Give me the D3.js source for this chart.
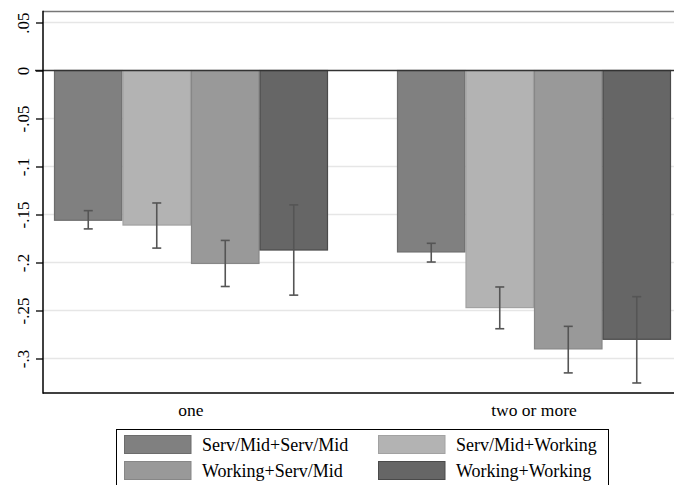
<!DOCTYPE html>
<html>
<head>
<meta charset="utf-8">
<script src="https://cdn.jsdelivr.net/npm/d3@7/dist/d3.min.js"></script>
<style>
  html, body { margin: 0; padding: 0; background: #fff; }
  svg { display: block; }
</style>
</head>
<body>
<svg id="chart" width="674" height="485"></svg>
<script>
// Number of children groups
const categories = ["one", "two or more"];
// Class combination of the couple
const seriesNames = ["Serv/Mid+Serv/Mid", "Serv/Mid+Working", "Working+Serv/Mid", "Working+Working"];
// Point estimates, one row per category, one column per series
const estimates = [
  [-0.156, -0.161, -0.201, -0.187],
  [-0.189, -0.247, -0.290, -0.280]
];
// Confidence interval bounds (upper, lower)
const ciUpper = [
  [-0.146, -0.138, -0.177, -0.140],
  [-0.180, -0.2255, -0.2665, -0.2356]
];
const ciLower = [
  [-0.165, -0.185, -0.225, -0.234],
  [-0.1995, -0.269, -0.315, -0.3255]
];
const yTicks = [0.05, 0, -0.05, -0.1, -0.15, -0.2, -0.25, -0.3];
const yTickLabels = [".05", "0", "-.05", "-.1", "-.15", "-.2", "-.25", "-.3"];

const fills = ["#808080", "#b3b3b3", "#999999", "#666666"];
const strokes = ["#6c6c6c", "#a2a2a2", "#878787", "#4a4a4a"];
const FONT = "'Liberation Serif'";

const svg = d3.select("#chart");
const plot = { left: 43, right: 690, top: 11.5, bottom: 393 };

const y = d3.scaleLinear().domain([0, -0.3]).range([70.5, 358.5]);

const x0 = d3.scaleBand().domain(categories).range([54, 671])
  .paddingInner(69 / 343).paddingOuter(0);
const x1 = d3.scaleBand().domain(seriesNames).range([0, x0.bandwidth()]).padding(0);

// grid lines
svg.append("g").selectAll("line")
  .data(yTicks.filter(d => d !== 0))
  .join("line")
  .attr("x1", plot.left).attr("x2", plot.right)
  .attr("y1", d => y(d)).attr("y2", d => y(d))
  .attr("stroke", "#e6e6e6").attr("stroke-width", 1.5);

// top frame line
svg.append("line")
  .attr("x1", plot.left).attr("x2", plot.right)
  .attr("y1", plot.top).attr("y2", plot.top)
  .attr("stroke", "#777").attr("stroke-width", 1.5);

// bars
const groups = svg.append("g").selectAll("g")
  .data(categories)
  .join("g")
  .attr("transform", d => `translate(${x0(d)},0)`);

groups.selectAll("rect")
  .data((c, ci) => seriesNames.map((s, si) => ({ s, si, v: estimates[ci][si] })))
  .join("rect")
  .attr("x", d => x1(d.s) + 0.5)
  .attr("width", x1.bandwidth() - 1)
  .attr("y", d => y(0))
  .attr("height", d => y(d.v) - y(0))
  .attr("fill", d => fills[d.si])
  .attr("stroke", d => strokes[d.si])
  .attr("stroke-width", 1.2);

// zero line
svg.append("line")
  .attr("x1", 35).attr("x2", plot.right)
  .attr("y1", y(0)).attr("y2", y(0))
  .attr("stroke", "#333").attr("stroke-width", 1.5);

// error bars
const errs = groups.selectAll("g.err")
  .data((c, ci) => seriesNames.map((s, si) => ({ s, si, hi: ciUpper[ci][si], lo: ciLower[ci][si] })))
  .join("g").attr("class", "err")
  .attr("transform", d => `translate(${x1(d.s) + x1.bandwidth() / 2},0)`)
  .attr("stroke", "#555").attr("stroke-width", 1.6);
errs.append("line").attr("x1", 0).attr("x2", 0)
  .attr("y1", d => y(d.hi)).attr("y2", d => y(d.lo));
errs.append("line").attr("x1", -4.5).attr("x2", 4.5)
  .attr("y1", d => y(d.hi)).attr("y2", d => y(d.hi));
errs.append("line").attr("x1", -4.5).attr("x2", 4.5)
  .attr("y1", d => y(d.lo)).attr("y2", d => y(d.lo));

// y axis
const yAxis = d3.axisLeft(y).tickValues(yTicks)
  .tickFormat((d, i) => yTickLabels[i]).tickSize(7).tickPadding(4);
const gy = svg.append("g").attr("transform", `translate(${plot.left},0)`).call(yAxis)
  .attr("font-family", FONT);
gy.select(".domain").remove();
gy.selectAll(".tick line").attr("stroke", "#000").attr("stroke-width", 1.3);
gy.selectAll(".tick text")
  .attr("font-family", FONT)
  .attr("font-size", 17)
  .attr("fill", "#000")
  .attr("text-anchor", "middle")
  .attr("x", null).attr("dy", null)
  .attr("transform", "translate(-14,0) rotate(-90)")
  .attr("y", 0);

svg.append("line")
  .attr("x1", plot.left).attr("x2", plot.left)
  .attr("y1", plot.top - 0.75).attr("y2", plot.bottom + 0.75)
  .attr("stroke", "#000").attr("stroke-width", 1.5);

// x axis
const xAxis = d3.axisBottom(x0).tickSize(0).tickPadding(11);
const gx = svg.append("g").attr("transform", `translate(0,${plot.bottom})`).call(xAxis)
  .attr("font-family", FONT);
gx.select(".domain").remove();
gx.selectAll(".tick text")
  .attr("font-family", FONT)
  .attr("font-size", 17.5)
  .attr("fill", "#000");
svg.append("line")
  .attr("x1", plot.left).attr("x2", plot.right)
  .attr("y1", plot.bottom).attr("y2", plot.bottom)
  .attr("stroke", "#000").attr("stroke-width", 1.5);

// legend
const legend = svg.append("g");
legend.append("rect")
  .attr("x", 116.5).attr("y", 429.5).attr("width", 492).attr("height", 70)
  .attr("fill", "#fff").attr("stroke", "#000").attr("stroke-width", 1);
const legendPos = [
  { x: 124, y: 435 }, { x: 378, y: 435 },
  { x: 124, y: 461 }, { x: 378, y: 461 }
];
const items = legend.selectAll("g.item")
  .data(seriesNames)
  .join("g").attr("class", "item")
  .attr("transform", (d, i) => `translate(${legendPos[i].x},${legendPos[i].y})`);
items.append("rect")
  .attr("x", 0.5).attr("y", 0.5).attr("width", 66.5).attr("height", 18)
  .attr("fill", (d, i) => fills[i]).attr("stroke", (d, i) => strokes[i]).attr("stroke-width", 1);
items.append("text")
  .attr("x", 78).attr("y", 15.5)
  .attr("font-family", FONT)
  .attr("font-size", 18).attr("fill", "#000")
  .text(d => d);
</script>
</body>
</html>
